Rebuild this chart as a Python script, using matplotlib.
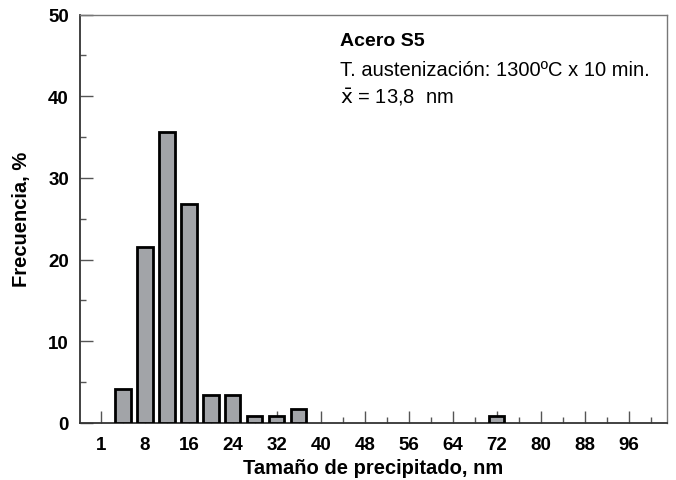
import matplotlib
matplotlib.use('Agg')
import matplotlib.pyplot as plt
import numpy as np

# %% Data
bin_centres = [4, 8, 12, 16, 20, 24, 28, 32, 36, 72]
freq_pct    = [4.2, 21.6, 35.6, 26.8, 3.4, 3.4, 0.8, 0.8, 1.7, 0.8]
major_ticks = list(range(0, 97, 8))
tick_labels = ['1'] + [str(t) for t in major_ticks[1:]]

plt.rcParams['font.family'] = ['Liberation Sans', 'DejaVu Sans']

fig = plt.figure(figsize=(6.76, 4.81), dpi=100)
ax = fig.add_axes([80 / 676, 1 - 424 / 481, (667 - 80) / 676, (424 - 15.5) / 481])

ax.bar(bin_centres, freq_pct, width=2.8, color='#a2a4a8',
       edgecolor='black', linewidth=2.0, zorder=3)

ax.set_xlim(-3.8, 103)
ax.set_ylim(0, 50)

ax.set_xticks(major_ticks)
ax.set_xticklabels(tick_labels)
ax.set_xticks(np.arange(4, 101, 8), minor=True)
ax.set_yticks(range(0, 51, 10))
ax.set_yticks(range(5, 50, 10), minor=True)

ax.tick_params(axis='both', which='major', direction='in', length=9,
               width=1.0, color='#555555', labelsize=13.5)
ax.tick_params(axis='both', which='minor', direction='in', length=4.5,
               width=1.0, color='#555555')
ax.tick_params(axis='x', which='major', pad=9)
ax.tick_params(axis='y', which='major', pad=8)
for lab in ax.get_xticklabels() + ax.get_yticklabels():
    lab.set_fontweight('bold')

for side in ['left', 'bottom']:
    ax.spines[side].set_color('#333333')
    ax.spines[side].set_linewidth(1.3)
for side in ['top', 'right']:
    ax.spines[side].set_color('#777777')
    ax.spines[side].set_linewidth(1.0)

ax.set_xlabel('Tamaño de precipitado, nm', fontsize=14.5, fontweight='bold', labelpad=4)
ax.set_ylabel('Frecuencia, %', fontsize=14.5, fontweight='bold', labelpad=12)

ax.text(340 / 676, 1 - 42 / 481, 'Acero S5', transform=fig.transFigure,
        fontsize=14, fontweight='bold', va='center', ha='left')
ax.text(340 / 676, 1 - 70 / 481, 'T. austenización: 1300ºC x 10 min.',
        transform=fig.transFigure, fontsize=14.5, va='center', ha='left')
ax.text(340 / 676, 1 - 97 / 481, r'$\bar{\mathrm{x}}$ = 13,8  nm',
        transform=fig.transFigure, fontsize=14.5, va='center', ha='left')

fig.savefig('out.png', dpi=100)
